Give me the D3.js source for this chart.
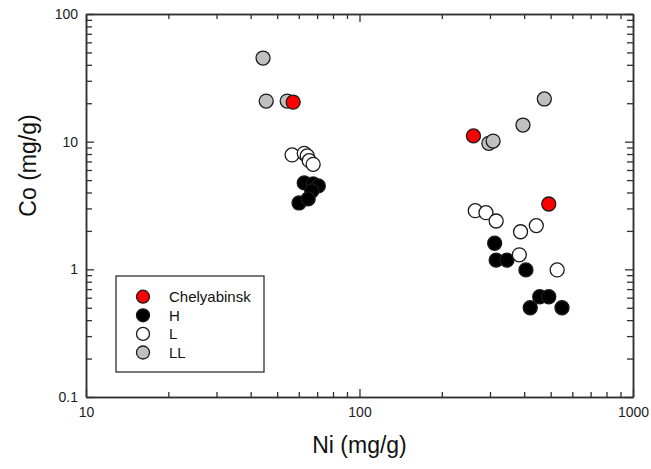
<!DOCTYPE html>
<html>
<head>
<meta charset="utf-8">
<script src="https://cdn.jsdelivr.net/npm/d3@7"></script>
<style>
  body { margin: 0; background: #fff; }
  svg { font-family: Arial, "Liberation Sans", sans-serif; }
</style>
</head>
<body>
<svg id="chart" width="651" height="469"></svg>
<script>
// groups in legend order
const groups = ["Chelyabinsk", "H", "L", "LL"]

// Ni (x) and Co (y) per group
const chelNi = [57.2, 261, 492]
const chelCo = [20.4, 11.1, 3.25]

const hNi = [62.8, 67.7, 70.7, 66.9, 60.1, 64.9, 312, 316, 346, 406, 456, 492, 421, 550]
const hCo = [4.75, 4.67, 4.5, 4.11, 3.31, 3.56, 1.6, 1.18, 1.18, 0.99, 0.61, 0.61, 0.5, 0.5]

const lNi = [56.7, 62.8, 64.4, 65.5, 67.7, 265, 290, 316, 443, 388, 384, 528]
const lCo = [7.87, 8.1, 7.73, 7.1, 6.65, 2.88, 2.78, 2.39, 2.2, 1.97, 1.30, 0.99]

const llNi = [44.4, 45.6, 54.4, 474, 396, 297, 308]
const llCo = [45.2, 20.8, 20.8, 21.6, 13.5, 9.7, 10.1]

const xTickLabels = [10, 100, 1000]
const yTickLabels = [0.1, 1, 10, 100]

const fillColor = d3.scaleOrdinal()
    .domain(groups)
    .range(["#ff0000", "#000000", "#ffffff", "#c0c0c0"])

const plot = { left: 86, right: 633, top: 14, bottom: 397 }
const axisColor = '#303030'

const svg = d3.select('#chart')

const x = d3.scaleLog().domain([10, 1000]).range([plot.left, plot.right])
const y = d3.scaleLog().domain([0.1, 100]).range([plot.bottom, plot.top])

// minor ticks 2..9 of every decade
function minorTicks(lo, hi) {
    let out = []
    for (let d = lo; d < hi; d *= 10) {
        for (let k = 2; k <= 9; k++) out.push(d * k)
    }
    return out
}
const xMinor = minorTicks(10, 1000)
const yMinor = minorTicks(0.1, 100)

function styleAxis(g) {
    g.selectAll('path').attr('stroke', axisColor).attr('stroke-width', 1.5)
    g.selectAll('line').attr('stroke', axisColor).attr('stroke-width', 1.3)
    g.selectAll('text').attr('fill', '#222').attr('font-size', 14)
}

// bottom
svg.append('g')
    .attr('transform', `translate(0,${plot.bottom})`)
    .call(d3.axisBottom(x).tickValues(xTickLabels).tickFormat(d3.format('d'))
        .tickSizeInner(-8).tickSizeOuter(0).tickPadding(10))
    .call(styleAxis)
svg.append('g')
    .attr('transform', `translate(0,${plot.bottom})`)
    .call(d3.axisBottom(x).tickValues(xMinor).tickFormat('').tickSizeInner(-5).tickSizeOuter(0))
    .call(styleAxis)
// top
svg.append('g')
    .attr('transform', `translate(0,${plot.top})`)
    .call(d3.axisTop(x).tickValues(xTickLabels).tickFormat('').tickSizeInner(-8).tickSizeOuter(0))
    .call(styleAxis)
svg.append('g')
    .attr('transform', `translate(0,${plot.top})`)
    .call(d3.axisTop(x).tickValues(xMinor).tickFormat('').tickSizeInner(-5).tickSizeOuter(0))
    .call(styleAxis)
// left
svg.append('g')
    .attr('transform', `translate(${plot.left},0)`)
    .call(d3.axisLeft(y).tickValues(yTickLabels).tickFormat(d => d < 1 ? '0.1' : d3.format('d')(d))
        .tickSizeInner(-8).tickSizeOuter(0).tickPadding(8))
    .call(styleAxis)
svg.append('g')
    .attr('transform', `translate(${plot.left},0)`)
    .call(d3.axisLeft(y).tickValues(yMinor).tickFormat('').tickSizeInner(-6).tickSizeOuter(0))
    .call(styleAxis)
// right
svg.append('g')
    .attr('transform', `translate(${plot.right},0)`)
    .call(d3.axisRight(y).tickValues(yTickLabels).tickFormat('').tickSizeInner(-8).tickSizeOuter(0))
    .call(styleAxis)
svg.append('g')
    .attr('transform', `translate(${plot.right},0)`)
    .call(d3.axisRight(y).tickValues(yMinor).tickFormat('').tickSizeInner(-6).tickSizeOuter(0))
    .call(styleAxis)

// axis titles
svg.append('text')
    .attr('x', (plot.left + plot.right) / 2)
    .attr('y', 453)
    .attr('text-anchor', 'middle')
    .attr('font-size', 23)
    .attr('fill', '#111')
    .text('Ni (mg/g)')
svg.append('text')
    .attr('transform', `translate(36,${(plot.top + plot.bottom) / 2 - 40}) rotate(-90)`)
    .attr('text-anchor', 'middle')
    .attr('font-size', 23)
    .attr('fill', '#111')
    .text('Co (mg/g)')

// points, drawn H, L, LL, then Chelyabinsk on top
const series = {
    "Chelyabinsk": chelNi.map((d, i) => ({ ni: d, co: chelCo[i] })),
    "H": hNi.map((d, i) => ({ ni: d, co: hCo[i] })),
    "L": lNi.map((d, i) => ({ ni: d, co: lCo[i] })),
    "LL": llNi.map((d, i) => ({ ni: d, co: llCo[i] }))
}
const drawOrder = ["H", "L", "LL", "Chelyabinsk"]
for (let g of drawOrder) {
    svg.append('g')
        .selectAll('circle')
        .data(series[g])
        .join('circle')
        .attr('cx', d => x(d.ni))
        .attr('cy', d => y(d.co))
        .attr('r', 7)
        .attr('fill', fillColor(g))
        .attr('stroke', '#1a1a1a')
        .attr('stroke-width', 1.3)
}

// legend
const legend = svg.append('g').attr('transform', 'translate(116,276)')
legend.append('rect')
    .attr('width', 148).attr('height', 96)
    .attr('fill', 'white')
    .attr('stroke', axisColor)
    .attr('stroke-width', 1.3)
const item = legend.selectAll('.item')
    .data(groups)
    .join('g')
    .attr('class', 'item')
    .attr('transform', (d, i) => `translate(27,${20.7 + i * 18.6})`)
item.append('circle')
    .attr('r', 6.5)
    .attr('fill', d => fillColor(d))
    .attr('stroke', '#1a1a1a')
    .attr('stroke-width', 1.3)
item.append('text')
    .attr('x', 26)
    .attr('dy', '0.35em')
    .attr('font-size', 15)
    .attr('fill', '#111')
    .text(d => d)
</script>
</body>
</html>
